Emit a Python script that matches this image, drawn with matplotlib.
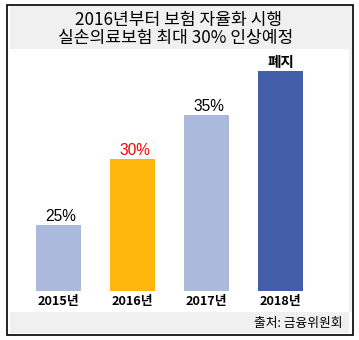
import numpy as np
import matplotlib
matplotlib.use("Agg")
import matplotlib.pyplot as plt
from matplotlib.patches import Rectangle

plt.rcParams['font.family'] = ['Noto Sans CJK KR', 'DejaVu Sans']

# Data
years = ['2015년', '2016년', '2017년', '2018년']
rates = [25, 30, 35, 40]
value_labels = ['25%', '30%', '35%', '폐지']
bar_colors = ['#aab9dc', '#ffb70c', '#aab9dc', '#435fa9']
label_colors = ['black', '#ff0000', 'black', 'black']
title_lines = ['2016년부터 보험 자율화 시행', '실손의료보험 최대 30% 인상예정']
source_text = '출처: 금융위원회'

# Schematic (non-linear) vertical scale used for the bars
_vals = [0, 25, 30, 35, 40, 45]
_units = [0, 1.5, 3, 4, 5, 6]


def _fwd(v):
    return np.interp(v, _vals, _units)


def _inv(u):
    return np.interp(u, _units, _vals)


W, H = 359, 340
fig = plt.figure(figsize=(W / 100, H / 100), dpi=100)
fig.patch.set_facecolor('white')


def box(x0, y0, x1, y1, **kw):
    """Rectangle in pixel coordinates measured from the top-left corner."""
    r = Rectangle((x0 / W, 1 - y1 / H), (x1 - x0) / W, (y1 - y0) / H,
                  transform=fig.transFigure, **kw)
    fig.patches.append(r)


gray = '#f0f0f0'
box(10, 6, 352, 49, facecolor=gray, edgecolor='none', zorder=0)
box(348.5, 49, 352, 312, facecolor=gray, edgecolor='none', zorder=0)
box(10, 312, 349, 333, facecolor=gray, edgecolor='none', zorder=0)
box(6.5, 5, 352.5, 334.5, facecolor='none', edgecolor='black', lw=1.2, zorder=5)

# Plot area
ax = fig.add_axes([7 / W, (H - 291) / H, 341.5 / W, 242 / H])
ax.set_facecolor('white')
ax.set_yscale('function', functions=(_fwd, _inv))
x = np.arange(len(years))
ax.bar(x, rates, width=0.608, color=bar_colors, zorder=2)
ax.set_xlim(-0.696, 3.92)
ax.set_ylim(0, _inv(5.5))
for s in ax.spines.values():
    s.set_visible(False)
ax.set_yticks([])
ax.yaxis.set_minor_locator(matplotlib.ticker.NullLocator())
ax.set_xticks(x)
ax.set_xticklabels(years, fontsize=9.2, fontweight='bold')
ax.tick_params(axis='x', length=0, pad=3)

for xi, v, lab, c in zip(x, rates, value_labels, label_colors):
    if lab.endswith('%'):
        ax.annotate(lab, (xi, v), xytext=(1.5, 3), textcoords='offset points',
                    ha='center', va='baseline', fontsize=11.2, color=c,
                    family=['Liberation Sans', 'DejaVu Sans'])
    else:
        ax.annotate(lab, (xi, v), xytext=(0, 3), textcoords='offset points',
                    ha='center', va='baseline', fontsize=10.5, color=c,
                    fontweight='bold')

# Title and source
fig.text(179 / W, 1 - 19.5 / H, title_lines[0], ha='center', va='center',
         fontsize=12.3, fontweight='medium')
fig.text(176 / W, 1 - 38.5 / H, title_lines[1], ha='center', va='center',
         fontsize=12.3, fontweight='medium')
fig.text(343 / W, 1 - 323 / H, source_text, ha='right', va='center',
         fontsize=9.2)

fig.savefig('out.png', dpi=100)
